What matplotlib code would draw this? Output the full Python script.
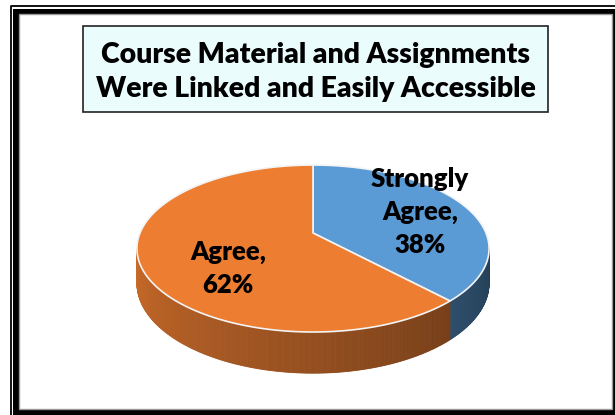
import numpy as np
import matplotlib
matplotlib.use("Agg")
import matplotlib.pyplot as plt
from matplotlib.patches import Polygon, Rectangle
from matplotlib.lines import Line2D
from matplotlib.colors import to_rgb

# ---- data ----
categories = ["Strongly Agree", "Agree"]
shares = [38, 62]
slice_colors = ["#5B9BD5", "#ED7D31"]
label_texts = ["Strongly\nAgree,\n38%", "Agree,\n62%"]
title_text = "Course Material and Assignments\nWere Linked and Easily Accessible"

# ---- canvas in pixel units ----
W, H = 615, 415
fig = plt.figure(figsize=(W / 100, H / 100), dpi=100)
ax = fig.add_axes([0, 0, 1, 1])
ax.set_xlim(0, W)
ax.set_ylim(H, 0)
ax.axis("off")

# outer frame: thin rule, heavy black border, grey inner rule
ax.add_line(Line2D([10.5, 10.5, W], [H, 6.5, 6.5], color="black", lw=1.3))
ax.add_patch(Rectangle((13, 9), W - 13, H - 9, facecolor="black", edgecolor="none"))
ax.add_patch(Rectangle((18.5, 14.5), 593, 394, facecolor="white",
                       edgecolor="#9a9a9a", lw=1.0))

# title box
ax.add_patch(Rectangle((83, 26), 465, 86, facecolor="#EBFCFD",
                       edgecolor="#222222", lw=1.2))
ax.text(315.5, 72, title_text, ha="center", va="center", fontsize=20.4,
        fontweight="heavy", family="Lato", linespacing=1.36, color="black")

# ---- 3-D pie geometry (perspective view of a tilted disk) ----
cx, cy = 313, 233
A, B, P, D = 173, 80.6, 0.186, 33.5


def proj(theta, depth=0.0):
    u, v = np.sin(theta), np.cos(theta)
    s = 1 + P * v
    return cx + A * u / s, cy - B * v / s + depth / s


fr = np.array(shares, dtype=float) / sum(shares)
bounds = np.concatenate([[0], np.cumsum(fr)]) * 2 * np.pi


def slice_index(t):
    t = t % (2 * np.pi)
    return int(np.searchsorted(bounds, t, side="right") - 1)


# side wall (front half only), shaded darker towards the right
t_sil = np.arccos(-P)
ts = np.linspace(t_sil, 2 * np.pi - t_sil, 361)
for t0, t1 in zip(ts[:-1], ts[1:]):
    tm = 0.5 * (t0 + t1)
    k = slice_index(tm)
    shade = 0.40 + 0.45 * (tm - t_sil) / (2 * np.pi - 2 * t_sil)
    col = np.clip(np.array(to_rgb(slice_colors[k])) * shade, 0, 1)
    pts = [proj(t0), proj(t1), proj(t1, D), proj(t0, D)]
    ax.add_patch(Polygon(pts, closed=True, facecolor=col, edgecolor=col, lw=0.6))

# top faces
for k in range(len(shares)):
    arc = np.linspace(bounds[k], bounds[k + 1], 200)
    pts = [(cx, cy)] + [proj(t) for t in arc]
    ax.add_patch(Polygon(pts, closed=True, facecolor=slice_colors[k],
                         edgecolor="#F4F4F4", lw=1.2, joinstyle="round"))

# data labels
label_xy = [(420, 212), (228, 268)]
for (x, y), txt in zip(label_xy, label_texts):
    ax.text(x, y, txt, ha="center", va="center", fontsize=18.5, fontweight="heavy",
            family="Lato", linespacing=1.45, color="black")

fig.savefig("out.png", dpi=100)
